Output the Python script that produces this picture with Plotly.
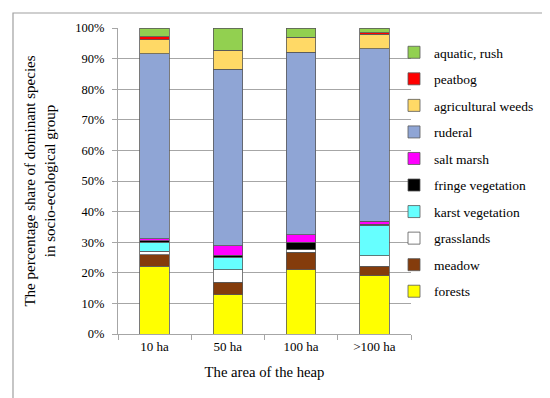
import plotly.graph_objects as go

categories = ["10 ha", "50 ha", "100 ha", ">100 ha"]
series_names = ["forests", "meadow", "grasslands", "karst vegetation", "fringe vegetation",
                "salt marsh", "ruderal", "agricultural weeds", "peatbog", "aquatic, rush"]
forests = [22.1, 12.8, 21.0, 19.0]
meadow = [3.8, 4.1, 5.7, 3.1]
grasslands = [1.1, 4.1, 0.8, 3.5]
karst = [3.0, 4.1, 0.0, 10.0]
fringe = [0.5, 0.6, 2.5, 0.3]
salt_marsh = [0.6, 3.2, 2.4, 1.0]
ruderal = [60.5, 57.6, 59.7, 56.3]
agri_weeds = [4.6, 6.2, 4.9, 4.8]
peatbog = [0.9, 0.0, 0.0, 0.4]
aquatic = [2.9, 7.3, 3.0, 1.6]
y_ticks = [0, 10, 20, 30, 40, 50, 60, 70, 80, 90, 100]
y_tick_labels = [f"{v}%" for v in y_ticks]

values = [forests, meadow, grasslands, karst, fringe, salt_marsh, ruderal, agri_weeds, peatbog, aquatic]
colors = ["#FFFF00", "#843C0C", "#FFFFFF", "#66FFFF", "#000000",
          "#FF00FF", "#8FA5D5", "#FFD966", "#FF0000", "#92D050"]

FONT = "Liberation Serif"
fig = go.Figure()
n = len(series_names)
for i, (name, vals, col) in enumerate(zip(series_names, values, colors)):
    fig.add_trace(go.Bar(
        x=categories, y=vals, name=name, legendgroup=name,
        legendrank=1000 + (n - i),
        marker=dict(color=col, line=dict(color="#595959", width=0.8)),
        width=0.4,
    ))

W, H = 550, 398
L, R, T, B = 110, 147, 20, 72
pw, ph = W - L - R, H - T - B

def px(x):
    return (x - L) / pw

def py(y):
    return (H - B - y) / ph

fig.update_layout(
    width=W, height=H,
    margin=dict(l=L, r=R, t=T, b=B),
    barmode="stack",
    plot_bgcolor="white", paper_bgcolor="white",
    font=dict(family=FONT, size=12, color="black"),
    xaxis=dict(
        showline=True, linecolor="#A6A6A6", linewidth=1,
        ticks="outside", ticklen=5, tickcolor="#A6A6A6",
        tickson="boundaries", showgrid=False,
        tickfont=dict(family=FONT, size=13),
        title=dict(text="The area of the heap", font=dict(family=FONT, size=14.7), standoff=14),
    ),
    yaxis=dict(
        range=[0, 100], tickvals=y_ticks, ticktext=y_tick_labels,
        showgrid=True, gridcolor="#A6A6A6", gridwidth=1,
        showline=True, linecolor="#A6A6A6", linewidth=1,
        ticks="outside", ticklen=5, tickcolor="#A6A6A6",
        tickfont=dict(family=FONT, size=12.5),
        ticklabelstandoff=5,
        zeroline=False,
        title=dict(text="The percentage share of dominant species<br>in socio-ecological group",
                   font=dict(family=FONT, size=15), standoff=16),
    ),
    legend=dict(
        x=px(386), y=py(29), xanchor="left", yanchor="top",
        traceorder="grouped", tracegroupgap=6, itemwidth=30,
        font=dict(family=FONT, size=13.5),
        bgcolor="rgba(0,0,0,0)",
    ),
    showlegend=True,
)

fig.add_shape(type="rect", xref="paper", yref="paper",
              x0=px(5), x1=px(545), y0=py(394), y1=py(5),
              line=dict(color="#A0A0A0", width=1.2), layer="below")

fig.write_html("out.html")
